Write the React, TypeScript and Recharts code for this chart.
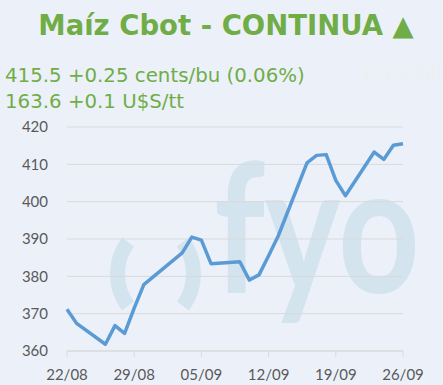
import React from 'react';
import { LineChart, Line, XAxis, YAxis, CartesianGrid } from 'recharts';

const dates = [
  '22/08', '23/08', '26/08', '27/08', '28/08', '29/08', '30/08',
  '03/09', '04/09', '05/09', '06/09', '09/09', '10/09', '11/09', '12/09', '13/09',
  '16/09', '17/09', '18/09', '19/09', '20/09', '23/09', '24/09', '25/09', '26/09',
];
const prices = [
  371.2, 367.4, 361.8, 366.8, 364.7, 371.5, 377.8,
  386.3, 390.5, 389.7, 383.4, 383.9, 379.0, 380.4, 385.5, 390.8,
  410.4, 412.4, 412.6, 405.7, 401.6, 413.3, 411.3, 415.1, 415.5,
];
const tickLabels = ['22/08', '29/08', '05/09', '12/09', '19/09', '26/09'];
const yTicks = [360, 370, 380, 390, 400, 410, 420];

const YEAR = 2024;
const toTime = (s: string) => {
  const [d, m] = s.split('/').map(Number);
  return Date.UTC(YEAR, m - 1, d);
};
const fmt = (t: number) => {
  const d = new Date(t);
  return `${String(d.getUTCDate()).padStart(2, '0')}/${String(d.getUTCMonth() + 1).padStart(2, '0')}`;
};

const data = dates.map((d, i) => ({ t: toTime(d), price: prices[i] }));
const xTicks = tickLabels.map(toTime);

const GREEN = '#70ad47';
const BG = '#ecf1f9';
const MARK = '#d3e4ef';

export default function App() {
  return (
    <div style={{ position: 'absolute', left: 0, top: 0, width: 443, height: 385, background: BG, overflow: 'hidden' }}>
      <svg width={443} height={385} style={{ position: 'absolute', left: 0, top: 0 }}>
        {/* watermark logo */}
        <path d="M128,242 A54,54 0 0 0 128,306" fill="none" stroke={MARK} strokeWidth={15} />
        <path d="M183,242 A54,54 0 0 1 183,306" fill="none" stroke={MARK} strokeWidth={15} />
        <text x={214} y={293} fontFamily="Lato" fontWeight={700} fontSize={180} fill={MARK}
          textLength={206} lengthAdjust="spacingAndGlyphs">fyo</text>
        {/* header */}
        <text x={226} y={35} textAnchor="middle" fontFamily="DejaVu Sans" fontWeight={700} fontSize={27.5} fill={GREEN}>
          Maíz Cbot - CONTINUA ▲
        </text>
        <text x={5} y={81.5} fontFamily="DejaVu Sans" fontSize={19.8} fill={GREEN}>
          415.5 +0.25 cents/bu (0.06%)
        </text>
        <text x={5} y={108} fontFamily="DejaVu Sans" fontSize={19.8} fill={GREEN}>
          163.6 +0.1 U$S/tt
        </text>
        <text x={362} y={80} fontFamily="Lato" fontWeight={300} fontSize={17} fill="#f0eeee">
          #¿NOMBRE?
        </text>
      </svg>
      <div style={{ position: 'absolute', left: 0, top: 0 }}>
        <LineChart width={443} height={385} data={data} margin={{ top: 127, right: 40, bottom: 0, left: 7 }}>
          <CartesianGrid vertical={false} stroke="#d9d9d9" strokeWidth={1} />
          <XAxis
            dataKey="t"
            type="number"
            scale="time"
            domain={[xTicks[0], xTicks[xTicks.length - 1]]}
            ticks={xTicks}
            tickFormatter={fmt}
            height={34}
            axisLine={{ stroke: '#d9d9d9' }}
            tickLine={{ stroke: '#d9d9d9' }}
            tickSize={6}
            tickMargin={12}
            tick={{ fontFamily: 'Lato', fontSize: 15, fill: '#595959' }}
            interval={0}
          />
          <YAxis
            type="number"
            domain={[360, 420]}
            ticks={yTicks}
            width={60}
            axisLine={false}
            tickLine={false}
            tickSize={6}
            tickMargin={13}
            tick={{ fontFamily: 'Lato', fontSize: 15, fill: '#595959' }}
            interval={0}
          />
          <Line
            type="linear"
            dataKey="price"
            stroke="#5b9bd5"
            strokeWidth={3.5}
            dot={false}
            isAnimationActive={false}
            strokeLinejoin="round"
          />
        </LineChart>
      </div>
    </div>
  );
}
